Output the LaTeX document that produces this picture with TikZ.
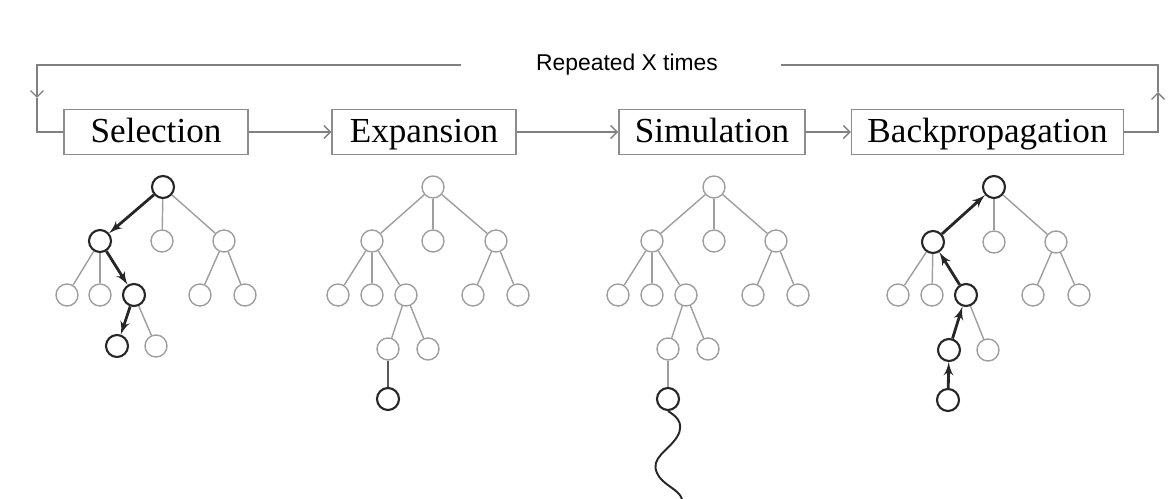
\documentclass[tikz,border=0pt]{standalone}
\usepackage{fontspec}
\usepackage{tikz}
\usetikzlibrary{arrows,arrows.meta}
\usetikzlibrary{positioning}
\newfontfamily\timesfont{Liberation Serif}
\newfontfamily\arialfont{Liberation Sans}
\tikzstyle{vertex}=[circle,draw=black!38,line width=0.8pt,minimum size=4.4mm,inner sep=0pt]
\tikzstyle{hot}=[vertex,draw=black!85,line width=1.2pt]
\tikzstyle{edge}=[draw,black!38,line width=0.8pt,-]
\tikzstyle{walk}=[draw,black!85,line width=1.6pt,-latex']
\tikzstyle{stage}=[draw=black!45,line width=0.8pt,minimum width=36.8mm,minimum height=9mm,inner xsep=3.2mm,inner ysep=1pt,text height=14pt,text depth=2pt,font={\timesfont\fontsize{20}{24}\selectfont}]
\tikzstyle{flow}=[draw,black!50,line width=0.8pt]

\begin{document}
\begin{tikzpicture}
		[x=0.2mm,y=-0.2mm,>={Straight Barb[length=1.3mm,width=2.6mm]}]
		\useasboundingbox (0,0) rectangle (1170,499);
		
		% stages
		\node[stage] (sel) at (156,132) {Selection};
		\node[stage] (exp) at (424,132) {Expansion};
		\node[stage] (sim) at (712,132) {Simulation};
		\node[stage] (bac) at (987.5,132) {Backpropagation};
		\node[font={\arialfont\fontsize{13}{15}\selectfont}] (rep) at (627,65) {Repeated X times};
		\coordinate (lgap) at (461,65);
		\coordinate (rgap) at (781,65);
		\coordinate (ldown) at (37,98);
		\coordinate (rup) at (1158,92);
		
		\draw[flow,->] (sel) to (exp);
		\draw[flow,->] (exp) to (sim);
		\draw[flow,->] (sim) to (bac);
		\draw[flow,->] (bac.east) -| (rup);
		\draw[flow] (rup) |- (rgap);
		\draw[flow,->] (lgap) -| (ldown);
		\draw[flow] (ldown) |- (sel.west);
		
		% selection
		\node[hot] (s0) at (163,187) {};
		\node[hot] (s1) at (100,241) {};
		\node[vertex] (s2) at (162,241) {};
		\node[vertex] (s3) at (224,241) {};
		\node[vertex] (s4) at (67,295) {};
		\node[vertex] (s5) at (100,295) {};
		\node[hot] (s6) at (134,295) {};
		\node[vertex] (s7) at (200,295) {};
		\node[vertex] (s8) at (245,295) {};
		\node[hot] (s9) at (117,346) {};
		\node[vertex] (s10) at (156,346) {};
		
		\draw[walk] (s0) to (s1);
		\draw[edge] (s0) to (s2);
		\draw[edge] (s0) to (s3);
		\draw[edge] (s1) to (s4);
		\draw[edge] (s1) to (s5);
		\draw[walk] (s1) to (s6);
		\draw[edge] (s3) to (s7);
		\draw[edge] (s3) to (s8);
		\draw[walk] (s6) to (s9);
		\draw[edge] (s6) to (s10);
		
		% expansion
		\node[vertex] (e0) at (433,187) {};
		\node[vertex] (e1) at (372,241) {};
		\node[vertex] (e2) at (433,241) {};
		\node[vertex] (e3) at (496,241) {};
		\node[vertex] (e4) at (338,295) {};
		\node[vertex] (e5) at (372,295) {};
		\node[vertex] (e6) at (406,295) {};
		\node[vertex] (e7) at (473,295) {};
		\node[vertex] (e8) at (518,295) {};
		\node[vertex] (e9) at (388,349) {};
		\node[vertex] (e10) at (428,349) {};
		\node[hot] (e11) at (388,399) {};
		
		\draw[edge] (e0) to (e1);
		\draw[edge] (e0) to (e2);
		\draw[edge] (e0) to (e3);
		\draw[edge] (e1) to (e4);
		\draw[edge] (e1) to (e5);
		\draw[edge] (e1) to (e6);
		\draw[edge] (e3) to (e7);
		\draw[edge] (e3) to (e8);
		\draw[edge] (e6) to (e9);
		\draw[edge] (e6) to (e10);
		\draw[edge,black!65,line width=1.1pt] (e9) to (e11);
		
		% simulation
		\node[vertex] (m0) at (714,187) {};
		\node[vertex] (m1) at (652,241) {};
		\node[vertex] (m2) at (714,241) {};
		\node[vertex] (m3) at (776,241) {};
		\node[vertex] (m4) at (618,295) {};
		\node[vertex] (m5) at (652,295) {};
		\node[vertex] (m6) at (686,295) {};
		\node[vertex] (m7) at (753,295) {};
		\node[vertex] (m8) at (798,295) {};
		\node[vertex] (m9) at (668,349) {};
		\node[vertex] (m10) at (708,349) {};
		\node[hot] (m11) at (668,399) {};
		\coordinate (mend) at (682,499);
		
		\draw[edge] (m0) to (m1);
		\draw[edge] (m0) to (m2);
		\draw[edge] (m0) to (m3);
		\draw[edge] (m1) to (m4);
		\draw[edge] (m1) to (m5);
		\draw[edge] (m1) to (m6);
		\draw[edge] (m3) to (m7);
		\draw[edge] (m3) to (m8);
		\draw[edge] (m6) to (m9);
		\draw[edge] (m6) to (m10);
		\draw[edge] (m9) to (m11);
		\draw[black!85,line width=1.1pt] (m11.south) .. controls (674,415) and (686,422) .. (677,437)
			.. controls (668,451) and (650,458) .. (657,473) .. controls (662,485) and (679,489) .. (mend);
		
		% backpropagation
		\node[hot] (b0) at (994,187) {};
		\node[hot] (b1) at (933,242) {};
		\node[vertex] (b2) at (994,242) {};
		\node[vertex] (b3) at (1056,242) {};
		\node[vertex] (b4) at (898,295) {};
		\node[vertex] (b5) at (932,295) {};
		\node[hot] (b6) at (966,295) {};
		\node[vertex] (b7) at (1033,295) {};
		\node[vertex] (b8) at (1079,295) {};
		\node[hot] (b9) at (949,350) {};
		\node[vertex] (b10) at (988,350) {};
		\node[hot] (b11) at (948,400) {};
		
		\draw[walk] (b1) to (b0);
		\draw[edge] (b0) to (b2);
		\draw[edge] (b0) to (b3);
		\draw[edge] (b1) to (b4);
		\draw[edge] (b1) to (b5);
		\draw[walk] (b6) to (b1);
		\draw[edge] (b3) to (b7);
		\draw[edge] (b3) to (b8);
		\draw[walk] (b9) to (b6);
		\draw[edge] (b6) to (b10);
		\draw[walk] (b11) to (b9);
		
		\end{tikzpicture}
\end{document}
